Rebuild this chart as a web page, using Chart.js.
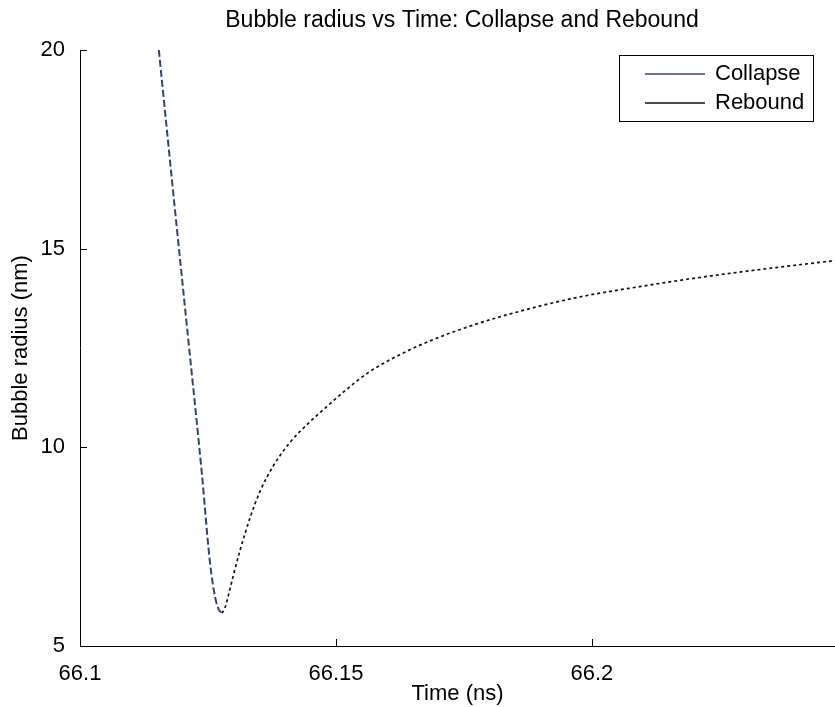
<!DOCTYPE html>
<html><head><meta charset="utf-8">
<script src="https://cdn.jsdelivr.net/npm/chart.js@4/dist/chart.umd.min.js"></script>
<style>html,body{margin:0;padding:0;background:#fff;overflow:hidden;} #c{display:block;}</style>
</head><body>
<canvas id="c" width="835" height="707"></canvas>
<script>
const chartTitle = 'Bubble radius vs Time: Collapse and Rebound';
const xAxisTitle = 'Time (ns)';
const yAxisTitle = 'Bubble radius (nm)';
const seriesNames = ['Collapse', 'Rebound'];
const collapseTime   = [66.1154, 66.1183, 66.1211, 66.1238, 66.1254, 66.1264, 66.1271, 66.1277];
const collapseRadius = [20.0,    16.3,    12.78,   9.35,    7.09,    6.23,    5.92,    5.83];
const reboundTime   = [66.1277, 66.1283, 66.1289, 66.1300, 66.1313, 66.1332, 66.1352, 66.1377, 66.1410, 66.1449, 66.1480, 66.1520, 66.1563, 66.1620, 66.1684, 66.1755, 66.1830, 66.1963, 66.2096, 66.2230, 66.2363, 66.2475];
const reboundRadius = [5.83,    5.95,    6.23,    6.80,    7.42,    8.22,    8.90,    9.52,    10.12,   10.64,   11.00,   11.45,   11.88,   12.30,   12.68,   13.02,   13.32,   13.75,   14.05,   14.31,   14.53,   14.70];
const xTickValues = [66.1, 66.15, 66.2];
const xTickLabels = ['66.1', '66.15', '66.2'];
const yTickValues = [5, 10, 15, 20];
const yTickLabels = ['5', '10', '15', '20'];
const xRange = [66.1, 66.2475];
const yRange = [5, 20];

const FONT = 'Liberation Sans, Arial, Helvetica, sans-serif';
const seriesColors = ['#34427a', '#111111'];

function pts(xs, ys) { return xs.map((v, i) => ({x: v, y: ys[i]})); }

const titleOverArea = {
  id: 'titleOverArea',
  afterLayout(chart) {
    if (chart.titleBlock) {
      chart.titleBlock.left = chart.chartArea.left;
      chart.titleBlock.right = chart.chartArea.right + 9;
    }
  }
};

const inwardTicks = {
  id: 'inwardTicks',
  afterDatasetsDraw(chart) {
    const {ctx, chartArea: a, scales: {x, y}} = chart;
    ctx.save();
    ctx.strokeStyle = '#000';
    ctx.lineWidth = 1;
    ctx.beginPath();
    xTickValues.forEach(v => { const px = Math.round(x.getPixelForValue(v)) + 0.5; ctx.moveTo(px, a.bottom); ctx.lineTo(px, a.bottom - 7); });
    yTickValues.forEach(v => { const py = Math.round(y.getPixelForValue(v)) + 0.5; ctx.moveTo(a.left, py); ctx.lineTo(a.left + 7, py); });
    ctx.stroke();
    ctx.restore();
  }
};

const boxLegend = {
  id: 'boxLegend',
  afterDraw(chart) {
    const {ctx, chartArea: a} = chart;
    const w = 194, h = 66;
    const left = a.right - 22 - w, top = a.top + 5;
    ctx.save();
    ctx.fillStyle = '#fff';
    ctx.fillRect(left, top, w, h);
    ctx.strokeStyle = '#000';
    ctx.lineWidth = 1;
    ctx.strokeRect(Math.round(left) + 0.5, Math.round(top) + 0.5, w, h);
    ctx.font = '22px ' + FONT;
    ctx.textBaseline = 'middle';
    ctx.textAlign = 'left';
    seriesNames.forEach((name, i) => {
      const yy = top + 19 + i * 29;
      ctx.strokeStyle = seriesColors[i];
      ctx.lineWidth = 1.5;
      ctx.beginPath();
      ctx.moveTo(left + 26, yy); ctx.lineTo(left + 86, yy);
      ctx.stroke();
      ctx.fillStyle = '#000';
      ctx.fillText(name, left + 96, yy);
    });
    ctx.restore();
  }
};

new Chart(document.getElementById('c'), {
  type: 'line',
  data: {
    datasets: [
      { label: seriesNames[0], data: pts(collapseTime, collapseRadius), borderColor: seriesColors[0], borderWidth: 2, borderDash: [7, 3], pointRadius: 0, fill: false, cubicInterpolationMode: 'monotone' },
      { label: seriesNames[1], data: pts(reboundTime, reboundRadius), borderColor: seriesColors[1], borderWidth: 1.7, borderDash: [3, 3], pointRadius: 0, fill: false, cubicInterpolationMode: 'monotone' }
    ]
  },
  options: {
    responsive: false,
    animation: false,
    devicePixelRatio: 1,
    layout: { padding: 0 },
    plugins: {
      legend: { display: false },
      tooltip: { enabled: false },
      title: { display: true, text: chartTitle, color: '#000', font: { family: FONT, size: 23, weight: 'normal' }, padding: { top: 7, bottom: 15.4 } }
    },
    scales: {
      x: {
        type: 'linear', min: xRange[0], max: xRange[1],
        afterBuildTicks: s => { s.ticks = xTickValues.map(v => ({ value: v })); },
        afterFit: s => { s.height = 61; },
        ticks: { callback: v => xTickLabels[xTickValues.indexOf(v)], color: '#000', font: { family: FONT, size: 22 }, padding: 7, maxRotation: 0, autoSkip: false },
        grid: { display: false },
        border: { display: true, color: '#000', width: 1 },
        title: { display: true, text: xAxisTitle, color: '#000', font: { family: FONT, size: 22 }, padding: { top: 0, bottom: 0 } }
      },
      y: {
        type: 'linear', min: yRange[0], max: yRange[1],
        afterBuildTicks: s => { s.ticks = yTickValues.map(v => ({ value: v })); },
        afterFit: s => { s.width = 80; },
        ticks: { callback: v => yTickLabels[yTickValues.indexOf(v)], color: '#000', font: { family: FONT, size: 22 }, padding: 7, autoSkip: false },
        grid: { display: false },
        border: { display: true, color: '#000', width: 1 },
        title: { display: true, text: yAxisTitle, color: '#000', font: { family: FONT, size: 22 }, padding: { top: 8, bottom: 0 } }
      }
    }
  },
  plugins: [titleOverArea, inwardTicks, boxLegend]
});
</script>
</body></html>
